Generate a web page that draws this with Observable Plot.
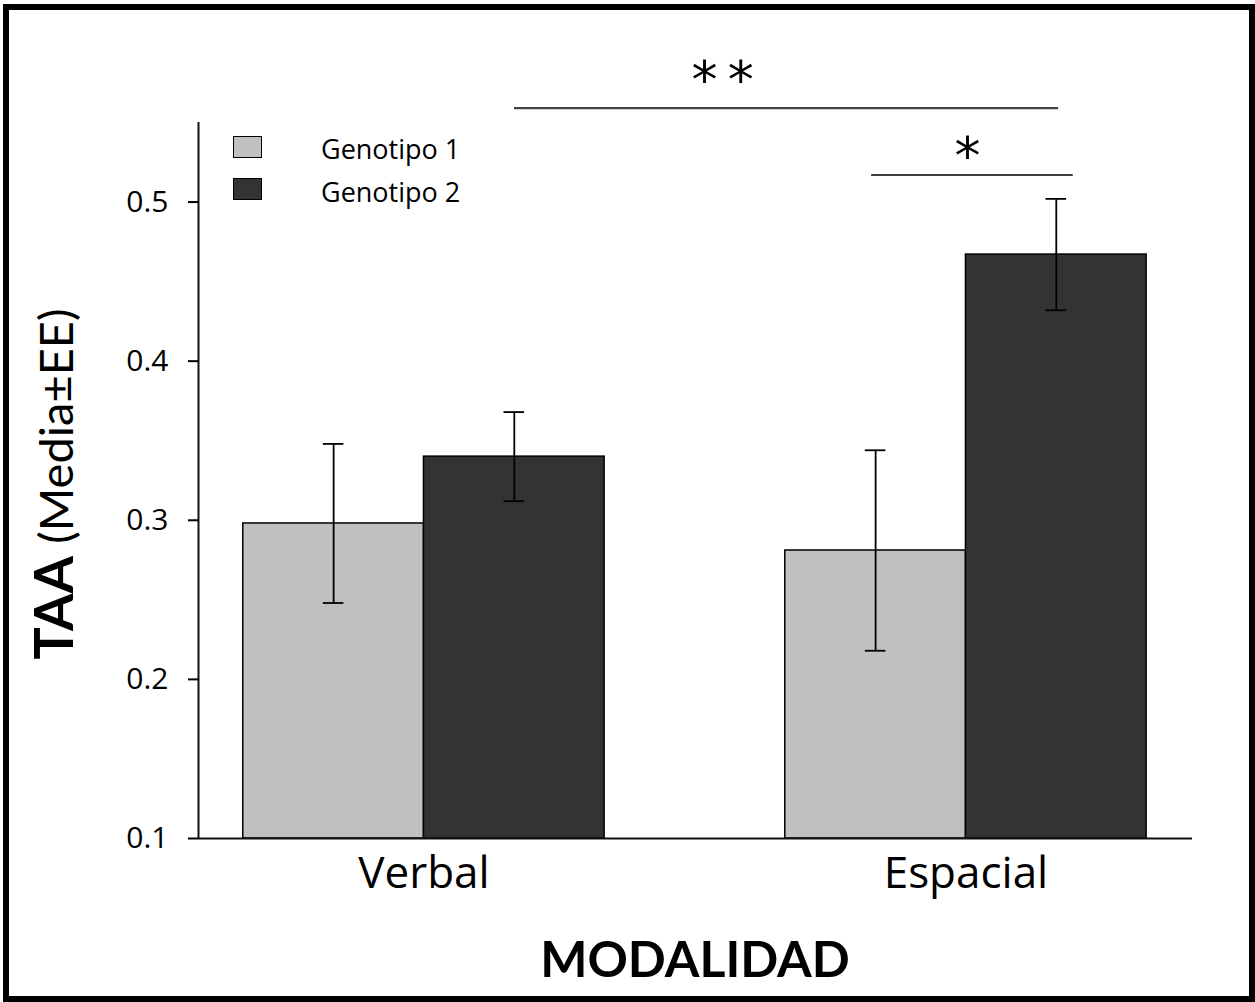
<!DOCTYPE html>
<html>
<head>
<meta charset="utf-8">
<script src="https://cdn.jsdelivr.net/npm/d3@7"></script>
<script src="https://cdn.jsdelivr.net/npm/@observablehq/plot@0.6"></script>
<style>
  html, body { margin: 0; padding: 0; background: #fff; }
  #wrap { position: relative; width: 1255px; height: 1002px; overflow: hidden; font-family: "Open Sans", sans-serif; color: #000; }
  #chart { position: absolute; left: 0; top: 0; }
  #border { position: absolute; left: 3px; top: 4px; width: 1252px; height: 998px; box-sizing: border-box; border: 6px solid #000; pointer-events: none; }
  .lg-sw { position: absolute; width: 29px; height: 22px; box-sizing: border-box; border: 1.5px solid #000; }
  .lg-tx { position: absolute; font-family: "Open Sans", sans-serif; font-size: 27px; line-height: 30px; white-space: nowrap; }
  #ytitle { position: absolute; left: 53px; top: 484px; transform: translate(-50%, -50%) rotate(-90deg); white-space: nowrap; font-family: Lato, sans-serif; font-size: 47px; line-height: 1; }
  #ytitle b { font-size: 54px; font-weight: 700; }
  #xtitle { position: absolute; left: 695px; top: 933px; transform: translateX(-50%); white-space: nowrap; font-family: Lato, sans-serif; font-weight: 700; font-size: 50px; line-height: 50px; }
</style>
</head>
<body>
<div id="wrap">
  <div id="chart"></div>
  <div id="legend"></div>
  <div id="ytitle"><b>TAA</b> (Media±EE)</div>
  <div id="xtitle">MODALIDAD</div>
  <div id="border"></div>
</div>
<script>
// ---- data ----
const categories = ["Verbal", "Espacial"];
const genotypes = ["Genotipo 1", "Genotipo 2"];
const colors = ["#c0c0c0", "#333333"];
const meanGenotipo1 = [0.298, 0.281];
const meanGenotipo2 = [0.340, 0.467];
const seGenotipo1 = [0.050, 0.063];
const seGenotipo2 = [0.028, 0.035];
const yTicks = [0.1, 0.2, 0.3, 0.4, 0.5];
// significance annotations (in data units: category index / y value)
const sigLabels = ["**", "*"];
const sigFrom = [1.167, 1.826];
const sigTo = [2.171, 2.198];
const sigLevel = [0.559, 0.517];
const sigTextX = [1.551, 2.003];
const sigTextY = [0.576, 0.528];

// ---- build table ----
const BAR = 1 / 3;      // bar width in category units
const CAP = 0.019;      // error cap half-width
const means = [meanGenotipo1, meanGenotipo2];
const ses = [seGenotipo1, seGenotipo2];
const rows = [];
categories.forEach((cat, i) => {
  genotypes.forEach((g, j) => {
    const c = i + 1;
    rows.push({
      cat, geno: g,
      x1: j === 0 ? c - BAR : c,
      x2: j === 0 ? c : c + BAR,
      cx: c + (j - 0.5) * BAR,
      mean: means[j][i],
      se: ses[j][i]
    });
  });
});
const sig = sigLabels.map((label, k) => ({
  label, x1: sigFrom[k], x2: sigTo[k], y: sigLevel[k], tx: sigTextX[k], ty: sigTextY[k]
}));

const xDomain = [0.584, 2.418];
const yDomain = [0.1, 0.55];

const chart = Plot.plot({
  width: 1255,
  height: 1002,
  marginLeft: 198,
  marginRight: 63,
  marginTop: 122,
  marginBottom: 164,
  style: { fontFamily: "'Open Sans', sans-serif", background: "transparent", color: "#000", overflow: "visible" },
  x: { type: "linear", domain: xDomain, axis: null },
  y: { domain: yDomain, axis: null },
  color: { domain: genotypes, range: colors },
  marks: [
    Plot.rect(rows, { x1: "x1", x2: "x2", y1: () => yDomain[0], y2: "mean", fill: "geno", stroke: "#000", strokeWidth: 1.5 }),
    Plot.ruleX(rows, { x: "cx", y1: d => d.mean - d.se, y2: d => d.mean + d.se, stroke: "#000", strokeWidth: 1.8 }),
    Plot.ruleY(rows, { y: d => d.mean + d.se, x1: d => d.cx - CAP, x2: d => d.cx + CAP, stroke: "#000", strokeWidth: 1.8 }),
    Plot.ruleY(rows, { y: d => d.mean - d.se, x1: d => d.cx - CAP, x2: d => d.cx + CAP, stroke: "#000", strokeWidth: 1.8 }),
    Plot.ruleY([yDomain[0]], { stroke: "#111", strokeWidth: 2 }),
    Plot.ruleX([xDomain[0]], { stroke: "#111", strokeWidth: 2 }),
    Plot.axisY({ ticks: yTicks, tickSize: 10, tickPadding: 20, tickFormat: d3.format(".1f"), fontSize: 30, strokeWidth: 2, label: null }),
    Plot.axisX({ ticks: [1, 2], tickSize: 0, tickPadding: 18, tickFormat: i => categories[i - 1], fontSize: 44, label: null }),
    Plot.ruleY(sig, { y: "y", x1: "x1", x2: "x2", stroke: d => d.label === "**" ? "#444" : "#000", strokeWidth: d => d.label === "**" ? 2.2 : 1.6 }),
    Plot.text(sig, { x: "tx", y: "ty", text: d => d.label.split("").join("\u2009"), fontSize: 52, fill: "#000", fontFamily: "'DejaVu Sans', sans-serif", lineAnchor: "middle" })
  ]
});
document.getElementById("chart").appendChild(chart);

// ---- legend ----
const legend = document.getElementById("legend");
genotypes.forEach((g, j) => {
  const sw = document.createElement("div");
  sw.className = "lg-sw";
  sw.style.left = "233px";
  sw.style.top = (136 + j * 42) + "px";
  sw.style.background = colors[j];
  legend.appendChild(sw);
  const tx = document.createElement("div");
  tx.className = "lg-tx";
  tx.style.left = "321px";
  tx.style.top = (134 + j * 43) + "px";
  tx.textContent = g;
  legend.appendChild(tx);
});
</script>
</body>
</html>
